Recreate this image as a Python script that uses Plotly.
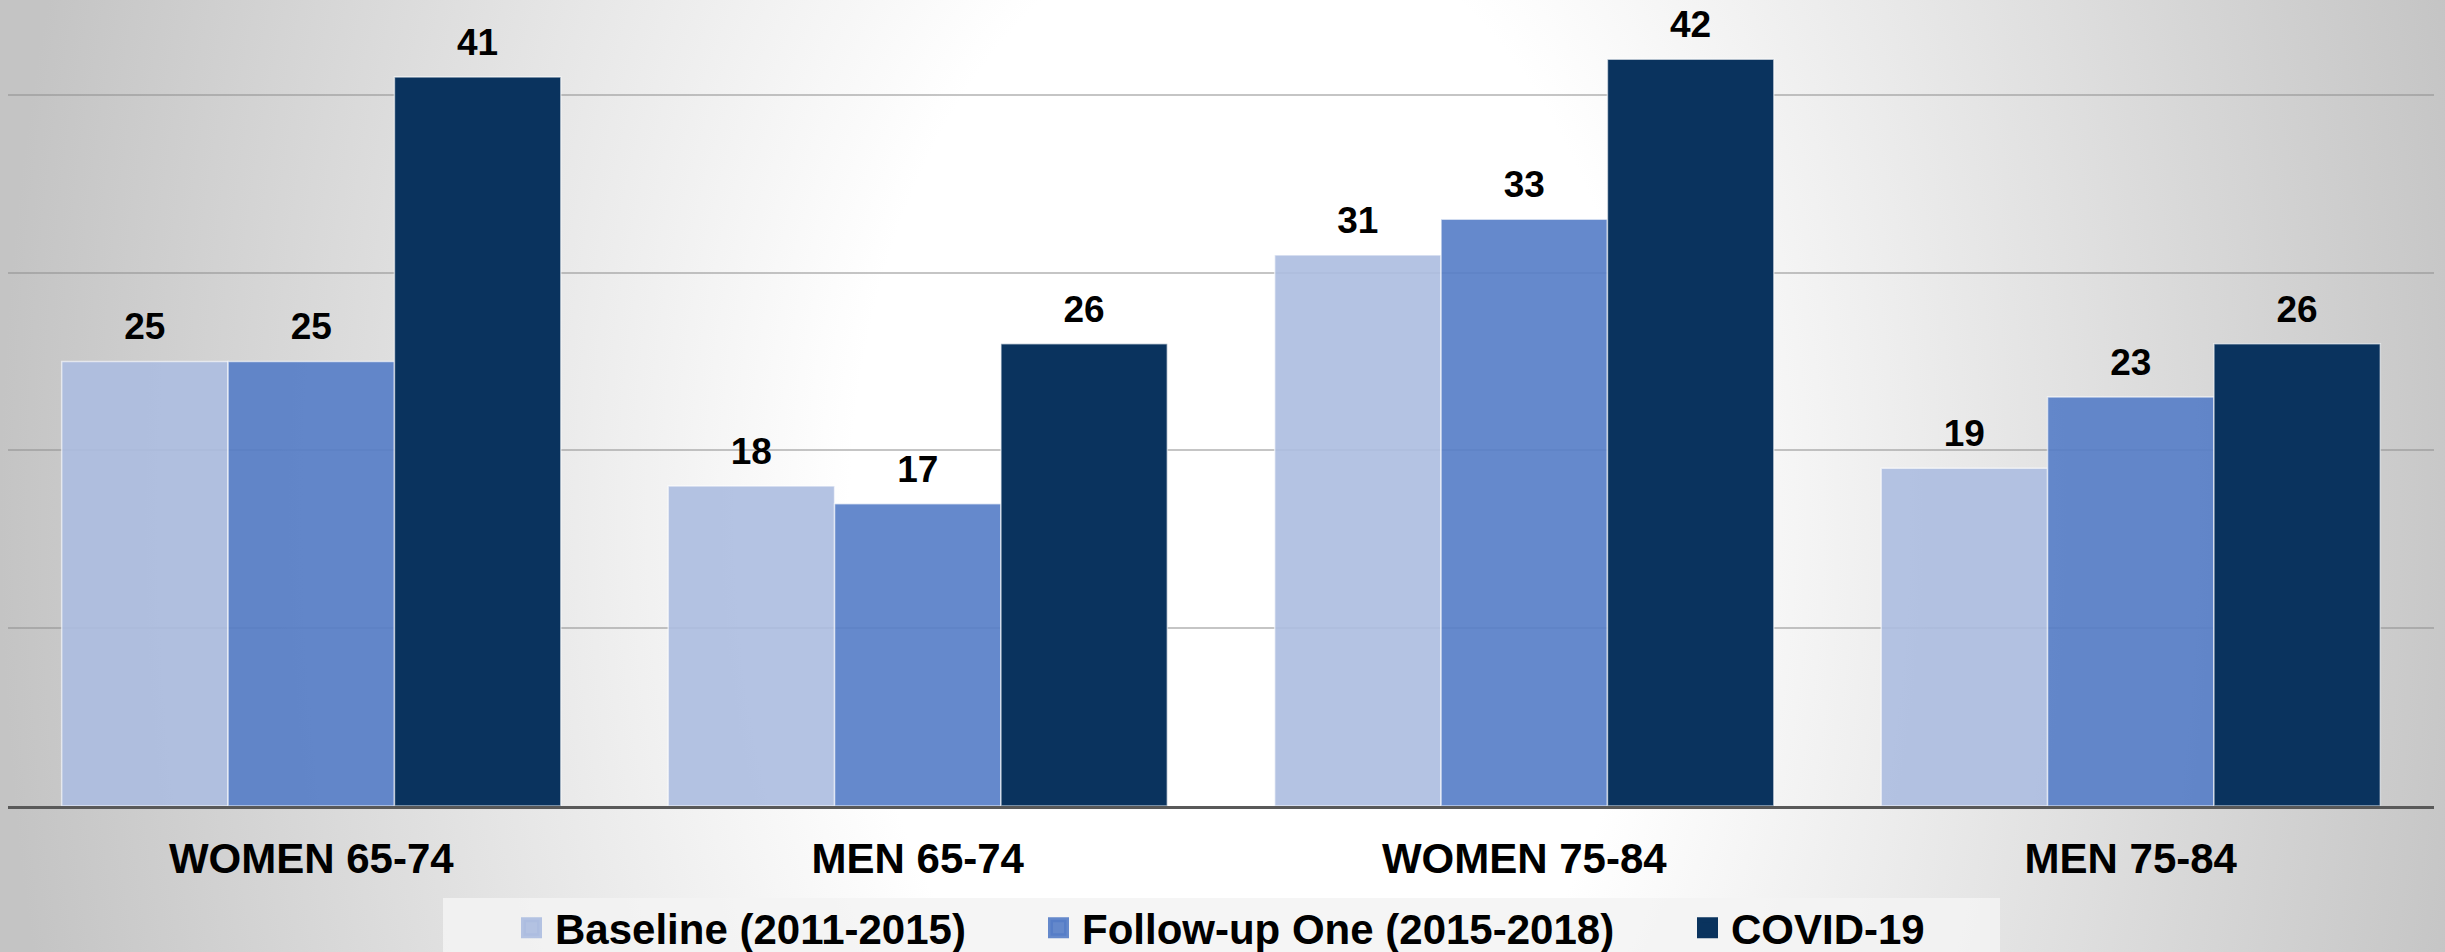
import base64
import plotly.graph_objects as go

# ---- data ----
categories = ["WOMEN 65-74", "MEN 65-74", "WOMEN 75-84", "MEN 75-84"]
series_names = ["Baseline (2011-2015)", "Follow-up One (2015-2018)", "COVID-19"]
baseline = [25, 18, 31, 19]
follow_up_one = [25, 17, 33, 23]
covid_19 = [41, 26, 42, 26]

# ---- styling ----
W, H = 2445, 952
FONT = "Liberation Sans, Arial, sans-serif"
series_colors = ["rgba(172,188,224,0.9)", "rgba(84,124,199,0.9)", "#0a335e"]
legend_entry_widths = [475, 597, 0]
BAR_GAP = 0.177

# plot area in pixels (margins are zero, so paper == full figure)
PLOT_LEFT, PLOT_RIGHT = 8, 2434
PLOT_TOP, PLOT_BOTTOM = 6, 806
Y_MAX = 45

# soft radial backdrop: white centre fading to grey at the sides
svg = f"""<svg xmlns='http://www.w3.org/2000/svg' width='{W}' height='{H}' viewBox='0 0 {W} {H}' preserveAspectRatio='none'>
<defs><radialGradient id='g' gradientUnits='userSpaceOnUse' cx='1250' cy='520' r='1250'
 gradientTransform='translate(1250 520) scale(1 1.52) translate(-1250 -520)'>
<stop offset='0' stop-color='#ffffff'/><stop offset='0.32' stop-color='#ffffff'/>
<stop offset='1' stop-color='#c4c4c4'/></radialGradient></defs>
<rect x='0' y='0' width='{W}' height='{H}' fill='url(#g)'/></svg>"""
bg_uri = "data:image/svg+xml;base64," + base64.b64encode(svg.encode()).decode()

label_font = dict(family=FONT, size=37, color="black", weight="bold")

fig = go.Figure()
all_values = [baseline, follow_up_one, covid_19]

# bars
for i, (name, values, color) in enumerate(zip(series_names, all_values, series_colors)):
    fig.add_trace(go.Bar(
        name=name,
        x=categories,
        y=values,
        offsetgroup=str(i),
        marker=dict(color=color, line=dict(color="rgba(255,255,255,0.6)", width=1.5)),
        showlegend=False,
        hoverinfo="x+y+name",
    ))

# value labels above each bar (grouped like the bars, lifted by an invisible marker)
for i, values in enumerate(all_values):
    fig.add_trace(go.Scatter(
        x=categories,
        y=values,
        offsetgroup=str(i),
        mode="markers+text",
        marker=dict(size=19, color="rgba(0,0,0,0)"),
        text=[str(v) for v in values],
        textposition="top center",
        textfont=label_font,
        cliponaxis=False,
        showlegend=False,
        hoverinfo="skip",
    ))

# legend entries with square swatches
for i, (name, color, lw) in enumerate(zip(series_names, series_colors, legend_entry_widths)):
    fig.add_trace(go.Scatter(
        x=[None], y=[None],
        offsetgroup=str(i),
        mode="markers",
        name=name,
        marker=dict(symbol="square", size=16, color=color, line=dict(color=color, width=5)),
        legendwidth=lw,
        hoverinfo="skip",
    ))

fig.update_layout(
    width=W, height=H, autosize=False,
    template="none",
    margin=dict(l=0, r=0, t=0, b=0, pad=0, autoexpand=False),
    paper_bgcolor="#d8d8d8",
    plot_bgcolor="rgba(0,0,0,0)",
    barmode="group",
    bargap=BAR_GAP,
    bargroupgap=0,
    scattermode="group",
    scattergap=BAR_GAP,
    font=dict(family=FONT, color="black"),
    images=[dict(source=bg_uri, xref="paper", yref="paper", x=0, y=1,
                 sizex=1, sizey=1, xanchor="left", yanchor="top",
                 sizing="stretch", layer="below")],
    shapes=[dict(type="rect", xref="paper", yref="paper",
                 x0=443 / W, x1=2000 / W, y0=0, y1=1 - 898 / H,
                 fillcolor="rgba(243,243,243,0.85)", line=dict(width=0),
                 layer="below")],
    xaxis=dict(
        domain=[PLOT_LEFT / W, PLOT_RIGHT / W],
        showline=True, linecolor="#595959", linewidth=3,
        showgrid=False, zeroline=False, ticks="",
        tickfont=dict(family=FONT, size=42, color="black", weight="bold"),
        ticklabelstandoff=14,
        automargin=False,
    ),
    yaxis=dict(
        domain=[1 - PLOT_BOTTOM / H, 1 - PLOT_TOP / H],
        range=[0, Y_MAX], dtick=10,
        showgrid=True, gridcolor="rgba(140,140,140,0.5)", gridwidth=2,
        zeroline=False, showline=False, showticklabels=False, ticks="",
        automargin=False,
    ),
    legend=dict(
        orientation="h",
        x=508 / W, xanchor="left",
        y=1 - 928 / H, yanchor="middle",
        bgcolor="rgba(0,0,0,0)", borderwidth=0,
        itemwidth=37,
        font=dict(family=FONT, size=42, color="black", weight="bold"),
        traceorder="normal",
    ),
    showlegend=True,
)

fig.write_html("out.html", config={"displayModeBar": False})
